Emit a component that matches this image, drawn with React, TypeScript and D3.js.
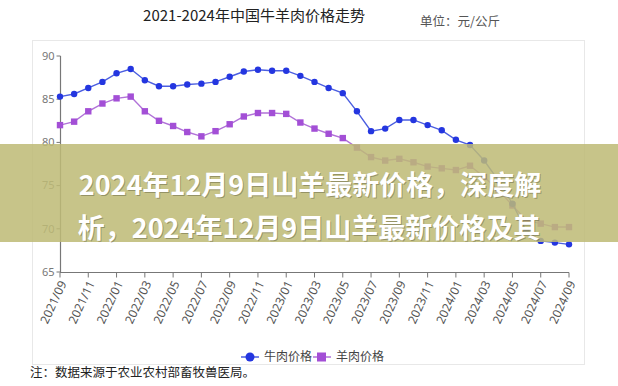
import React from "react";
import * as d3 from "d3";

// months 2021/09 .. 2024/09
const months: string[] = [];
for (let i = 0; i < 37; i++) {
  const y = 2021 + Math.floor((8 + i) / 12);
  const m = ((8 + i) % 12) + 1;
  months.push(`${y}/${m < 10 ? "0" + m : m}`);
}

const beefPrice = [
  85.3, 85.6, 86.3, 87.0, 88.0, 88.5, 87.2, 86.5, 86.5, 86.7, 86.8, 87.0, 87.6,
  88.2, 88.4, 88.3, 88.3, 87.7, 87.0, 86.3, 85.7, 83.6, 81.3, 81.6, 82.6, 82.6,
  82.0, 81.4, 80.3, 79.7, 77.9, 75.6, 72.9, 69.7, 68.6, 68.4, 68.2,
];
const muttonPrice = [
  82.0, 82.4, 83.6, 84.5, 85.1, 85.3, 83.6, 82.5, 81.9, 81.2, 80.7, 81.3, 82.1,
  83.0, 83.4, 83.4, 83.3, 82.3, 81.6, 81.0, 80.5, 79.4, 78.3, 77.9, 78.1, 77.7,
  77.2, 77.0, 76.8, 77.3, 76.0, 74.5, 72.7, 71.0, 70.6, 70.2, 70.2,
];
const yTicks = [65, 70, 75, 80, 85, 90];
const legendNames = ["牛肉价格", "羊肉价格"];

const beefColor = "#2436e0";
const muttonColor = "#a34fd6";

export default function App() {
  const x = d3
    .scalePoint<string>()
    .domain(months)
    .range([60, 569]);
  const y = d3.scaleLinear().domain([65, 90]).range([272, 56]);

  const line = d3
    .line<number>()
    .x((d, i) => x(months[i]) as number)
    .y((d) => y(d));

  const xTickMonths = months.filter((d, i) => i % 2 === 0);

  return (
    <svg
      width={618}
      height={386}
      style={{ position: "absolute", left: 0, top: 0, background: "#fff" }}
      fontFamily="'Noto Sans CJK SC', 'Noto Sans', sans-serif"
    >
      {/* title + unit */}
      <text x={254} y={21} textAnchor="middle" fontSize={15} fill="#222">
        2021-2024年中国牛羊肉价格走势
      </text>
      <text x={460} y={26} textAnchor="middle" fontSize={12.5} fill="#555">
        单位：元/公斤
      </text>

      {/* chart frame */}
      <rect x={32.5} y={40.5} width={552} height={324} fill="#fff" stroke="#e8e8e8" />

      {/* y axis */}
      <line x1={60.5} x2={60.5} y1={y(90)} y2={y(65)} stroke="#777" strokeWidth={1.2} />
      {yTicks.map((t) => (
        <g key={t} transform={`translate(60.5,${y(t)})`}>
          <line x1={-4} x2={0} stroke="#777" />
          <text x={-6} dy="0.35em" textAnchor="end" fontSize={11} fill="#777" fontFamily="'Noto Sans', sans-serif">
            {t}
          </text>
        </g>
      ))}

      {/* x axis */}
      <line x1={60} x2={569} y1={272.5} y2={272.5} stroke="#777" strokeWidth={1.2} />
      {xTickMonths.map((m) => (
        <g key={m} transform={`translate(${x(m)},272.5)`}>
          <line y1={0} y2={5} stroke="#777" />
          <text
            transform="translate(3,9) rotate(-65)"
            textAnchor="end"
            dy="0.35em"
            fontSize={12}
            fill="#555"
            fontFamily="'Noto Sans', sans-serif"
          >
            {m}
          </text>
        </g>
      ))}

      {/* series */}
      <path d={line(muttonPrice) || ""} fill="none" stroke="#b172d8" strokeWidth={1.4} />
      {muttonPrice.map((v, i) => (
        <rect
          key={"s" + i}
          x={(x(months[i]) as number) - 3.2}
          y={y(v) - 3.2}
          width={6.4}
          height={6.4}
          fill={muttonColor}
        />
      ))}
      <path d={line(beefPrice) || ""} fill="none" stroke="#4b5ee0" strokeWidth={1.4} />
      {beefPrice.map((v, i) => (
        <circle key={"b" + i} cx={x(months[i]) as number} cy={y(v)} r={3.2} fill={beefColor} />
      ))}

      {/* legend */}
      <g transform="translate(241,357)">
        <line x1={0} x2={18} stroke="#4b5ee0" strokeWidth={1.5} />
        <circle cx={9} cy={0} r={4.5} fill={beefColor} />
        <text x={23} dy="0.35em" fontSize={12} fill="#444">
          {legendNames[0]}
        </text>
        <line x1={72} x2={90} stroke="#b172d8" strokeWidth={1.5} />
        <rect x={76} y={-4.5} width={9} height={9} fill={muttonColor} />
        <text x={95} dy="0.35em" fontSize={12} fill="#444">
          {legendNames[1]}
        </text>
      </g>

      {/* note */}
      <text x={30} y={377} fontSize={12.5} fill="#222">
        注：数据来源于农业农村部畜牧兽医局。
      </text>

      {/* overlay banner */}
      <rect x={0} y={144} width={618} height={98} fill="rgb(190,186,118)" opacity={0.86} />
      <g fontSize={27} fontWeight="bold" fill="#fff" textAnchor="middle">
        <text x={310} y={195} fill="rgba(0,0,0,0.25)" dx={1} dy={1}>
          2024年12月9日山羊最新价格，深度解
        </text>
        <text x={310} y={195}>2024年12月9日山羊最新价格，深度解</text>
        <text x={309} y={238} fill="rgba(0,0,0,0.25)" dx={1} dy={1}>
          析，2024年12月9日山羊最新价格及其
        </text>
        <text x={309} y={238}>析，2024年12月9日山羊最新价格及其</text>
      </g>
    </svg>
  );
}
